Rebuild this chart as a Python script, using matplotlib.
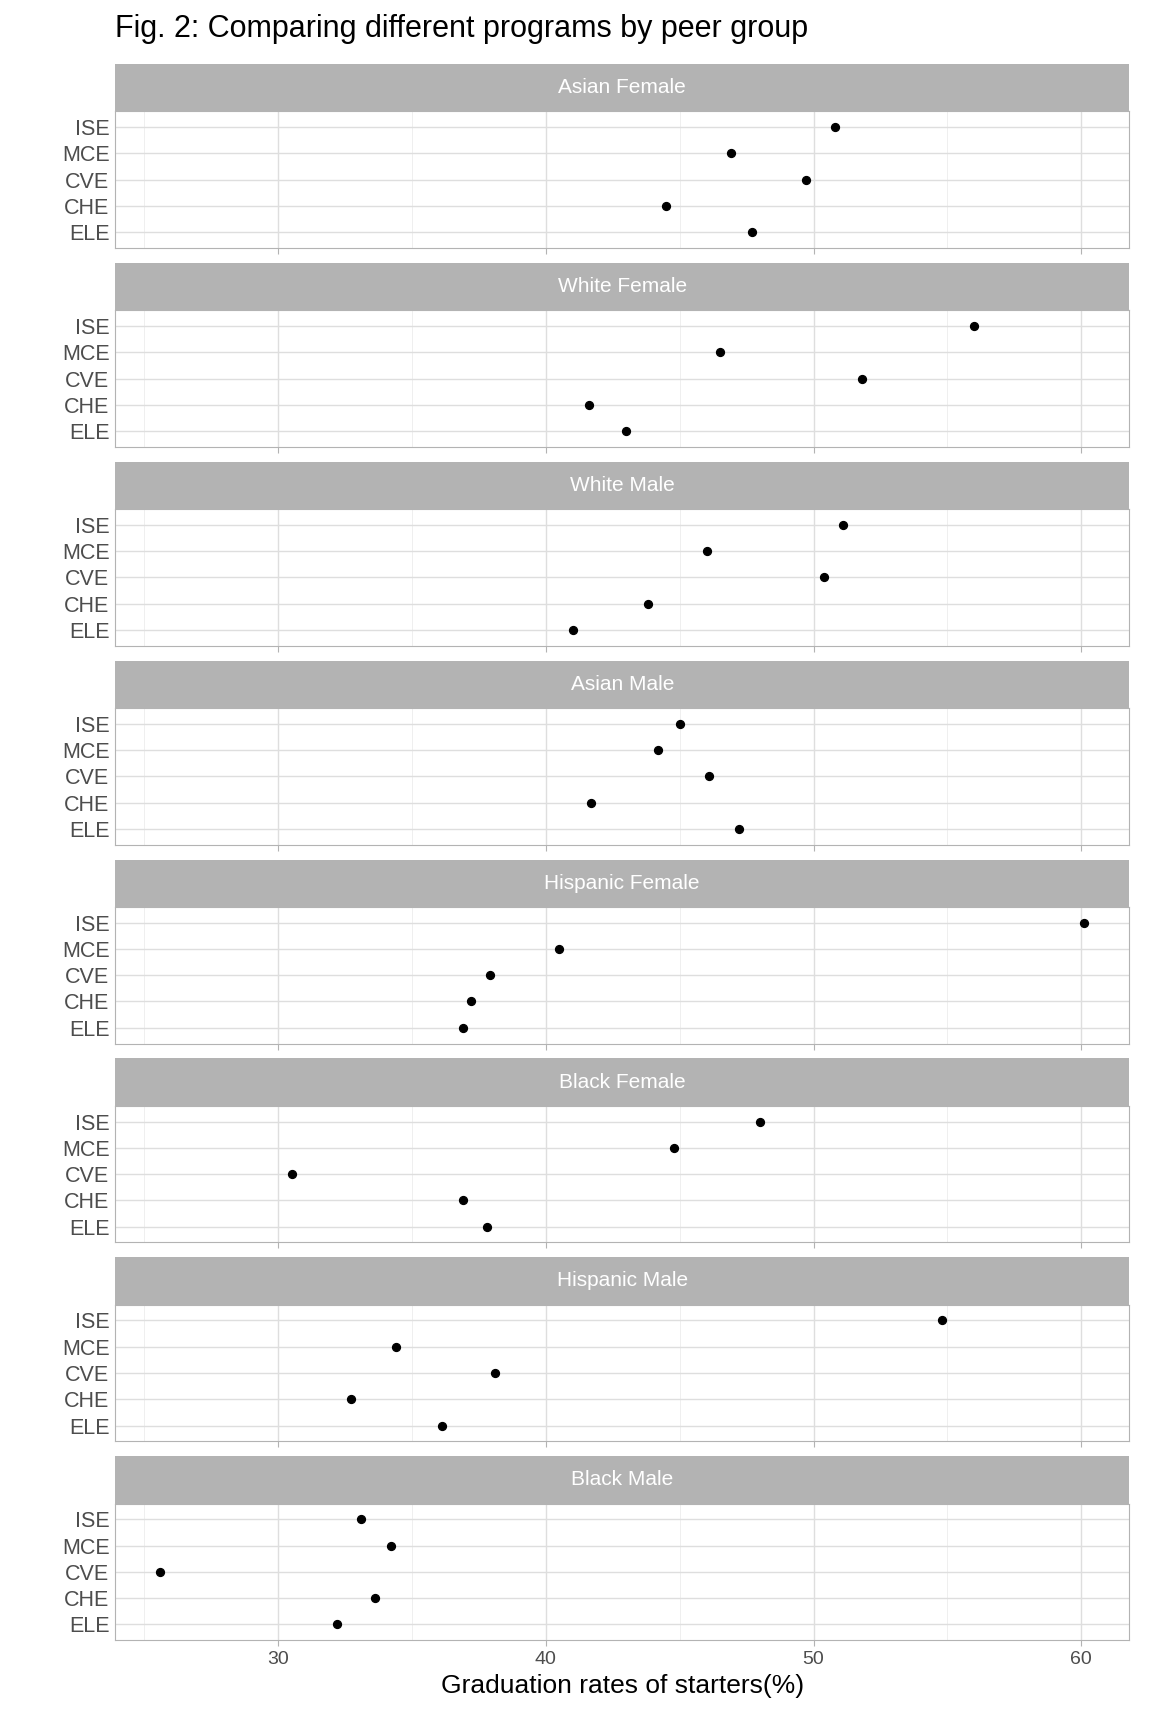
import matplotlib
matplotlib.use("Agg")
import matplotlib.pyplot as plt

plt.rcParams["font.family"] = ["Liberation Sans", "DejaVu Sans"]

PROGRAMS = ["ISE", "MCE", "CVE", "CHE", "ELE"]
GROUPS = ["Asian Female", "White Female", "White Male", "Asian Male",
          "Hispanic Female", "Black Female", "Hispanic Male", "Black Male"]
asian_female = [50.8, 46.9, 49.7, 44.5, 47.7]
white_female = [56.0, 46.5, 51.8, 41.6, 43.0]
white_male = [51.1, 46.0, 50.4, 43.8, 41.0]
asian_male = [45.0, 44.2, 46.1, 41.7, 47.2]
hispanic_female = [60.1, 40.5, 37.9, 37.2, 36.9]
black_female = [48.0, 44.8, 30.5, 36.9, 37.8]
hispanic_male = [54.8, 34.4, 38.1, 32.7, 36.1]
black_male = [33.1, 34.2, 25.6, 33.6, 32.2]
VALUES = [asian_female, white_female, white_male, asian_male,
          hispanic_female, black_female, hispanic_male, black_male]
XTICKS = [30, 40, 50, 60]

fig = plt.figure(figsize=(11.52, 17.28), dpi=100)
left, width = 0.0998, 0.8806
top0 = 0.963
strip_h, body_h, period = 0.0274, 0.0791, 0.1151
ypos = list(range(len(PROGRAMS)))[::-1]

for k, (name, vals) in enumerate(zip(GROUPS, VALUES)):
    strip_top = top0 - k * period
    body_top = strip_top - strip_h
    sax = fig.add_axes([left, body_top, width, strip_h])
    sax.set_facecolor("#B3B3B3")
    sax.set_xticks([]); sax.set_yticks([])
    for s in sax.spines.values():
        s.set_visible(False)
    sax.text(0.5, 0.5, name, color="white", fontsize=15,
             ha="center", va="center", transform=sax.transAxes)

    ax = fig.add_axes([left, body_top - body_h, width, body_h])
    ax.scatter(vals, ypos, s=32, color="black", zorder=3)
    ax.set_xlim(23.9, 61.8)
    ax.set_ylim(-0.6, 4.6)
    ax.set_yticks(ypos)
    ax.set_yticklabels(PROGRAMS)
    ax.set_xticks(XTICKS)
    ax.set_xticks([25, 35, 45, 55], minor=True)
    ax.grid(True, which="major", color="#DEDEDE", lw=1.0)
    ax.grid(True, which="minor", axis="x", color="#EFEFEF", lw=0.7)
    ax.set_axisbelow(True)
    ax.tick_params(axis="both", which="both", length=0, labelsize=15.5,
                   labelcolor="#4D4D4D", pad=4)
    ax.tick_params(axis="x", which="major", length=4, color="#B3B3B3")
    for s in ax.spines.values():
        s.set_color("#B3B3B3")
    if k < len(GROUPS) - 1:
        ax.set_xticklabels([])
    else:
        ax.tick_params(axis="x", labelsize=14)
        ax.set_xlabel("Graduation rates of starters(%)", fontsize=19, labelpad=4)

fig.text(left, 0.983, "Fig. 2: Comparing different programs by peer group",
         fontsize=22, ha="left", va="center")
fig.savefig("out.png", dpi=100)
